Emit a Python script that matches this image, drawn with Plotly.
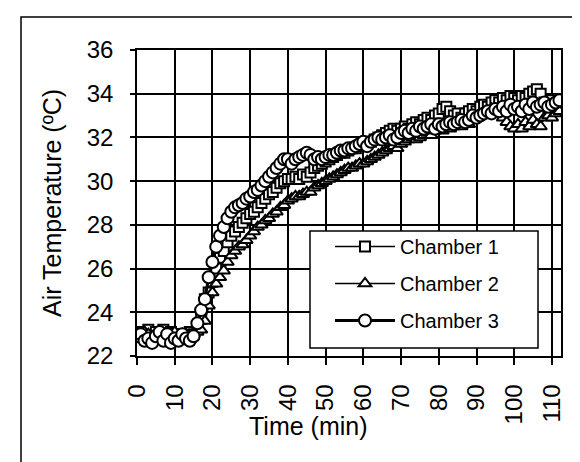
import plotly.graph_objects as go

# ---- data ----
time_min = list(range(0, 113))

chamber1 = [23.1, 22.9, 23.0, 23.2, 22.9, 23.1, 23.0, 23.2, 22.9, 23.1,
            23.0, 22.8, 23.0, 22.9, 23.1, 23.0, 23.3, 23.7, 24.6, 24.9,
            25.4, 26.0, 26.5, 26.8, 27.2, 27.5, 27.7, 27.9, 28.1, 28.3,
            28.5, 28.6, 28.8, 29.0, 29.2, 29.4, 29.5, 29.7, 29.9, 30.0,
            30.1, 30.1, 30.2, 30.1, 30.3, 30.2, 30.4, 30.6, 30.7, 30.8,
            30.9, 31.0, 31.1, 31.2, 31.3, 31.3, 31.4, 31.5, 31.5, 31.6,
            31.7, 31.7, 31.8, 31.9, 32.0, 32.1, 32.2, 32.3, 32.4, 32.3,
            32.4, 32.5, 32.4, 32.6, 32.7, 32.6, 32.8, 32.9, 32.8, 33.0,
            33.1, 33.3, 33.4, 33.2, 33.0, 33.1, 32.9, 33.1, 33.2, 33.3,
            33.2, 33.4, 33.5, 33.4, 33.6, 33.7, 33.6, 33.8, 33.7, 33.9,
            33.8, 33.7, 33.9, 33.8, 34.0, 34.1, 34.2, 34.0, 33.6, 33.4,
            33.7, 33.5, 33.6]

chamber2 = [23.0, 22.9, 23.1, 23.0, 22.9, 23.0, 23.1, 23.0, 22.9, 23.0,
            23.1, 22.9, 23.0, 23.0, 22.9, 23.0, 23.1, 23.2, 23.6, 24.3,
            24.9, 25.3, 25.6, 25.9, 26.3, 26.6, 26.8, 27.0, 27.1, 27.3,
            27.5, 27.7, 27.9, 28.0, 28.2, 28.3, 28.5, 28.6, 28.8, 28.9,
            29.1, 29.2, 29.3, 29.3, 29.4, 29.5, 29.5, 29.7, 29.8, 29.9,
            30.0, 30.1, 30.2, 30.3, 30.4, 30.5, 30.6, 30.6, 30.7, 30.8,
            30.8, 30.9, 31.0, 31.1, 31.2, 31.3, 31.4, 31.5, 31.6, 31.5,
            31.7, 31.8, 31.9, 32.0, 31.9, 32.0, 32.1, 32.2, 32.1, 32.3,
            32.4, 32.3, 32.5, 32.4, 32.5, 32.6, 32.5, 32.7, 32.6, 32.8,
            32.9, 33.0, 33.1, 33.2, 33.3, 33.2, 33.1, 32.9, 32.7, 32.5,
            32.4, 32.6, 32.4, 32.7, 32.5, 32.8, 32.6, 32.5, 32.9, 33.0,
            32.9, 33.1, 33.2]

chamber3 = [22.9, 23.0, 22.7, 22.8, 22.6, 22.9, 23.1, 22.7, 23.0, 22.6,
            22.8, 22.7, 23.0, 22.8, 22.7, 22.9, 23.5, 24.1, 24.6, 25.6,
            26.3, 27.0, 27.5, 27.9, 28.3, 28.6, 28.8, 28.9, 29.0, 29.2,
            29.3, 29.5, 29.6, 29.8, 30.0, 30.2, 30.4, 30.6, 30.8, 31.0,
            31.0, 30.8, 31.0, 31.1, 31.2, 31.3, 31.2, 31.0, 31.1, 31.0,
            31.1, 31.2, 31.2, 31.3, 31.4, 31.4, 31.5, 31.5, 31.6, 31.7,
            31.8, 31.6, 31.8, 31.9, 32.0, 31.9, 32.0, 32.1, 31.9, 32.0,
            32.2, 32.3, 32.2, 32.4, 32.3, 32.5, 32.4, 32.5, 32.6, 32.4,
            32.6, 32.5, 32.6, 32.7, 32.6, 32.7, 32.8, 32.7, 32.8, 33.0,
            32.9, 33.0, 33.1, 33.2, 33.1, 33.3, 33.2, 33.4, 33.2, 33.5,
            33.3, 33.4, 33.2, 33.5, 33.3, 33.6, 33.4, 33.5, 33.6, 33.4,
            33.5, 33.6, 33.7]

series_names = ["Chamber 1", "Chamber 2", "Chamber 3"]
x_ticks = list(range(0, 120, 10))
y_ticks = list(range(22, 38, 2))

FONT = "Liberation Sans, Arial, sans-serif"

fig = go.Figure()
styles = [
    dict(symbol="square", size=10, lw=1.5),
    dict(symbol="triangle-up", size=11, lw=1.5),
    dict(symbol="circle", size=12, lw=3),
]
for i, (name, ys) in enumerate(zip(series_names, [chamber1, chamber2, chamber3])):
    st = styles[i]
    fig.add_trace(go.Scatter(
        x=time_min, y=ys, name=name, mode="lines+markers",
        legendgroup=name,
        line=dict(color="black", width=st["lw"]),
        marker=dict(symbol=st["symbol"], size=st["size"], color="white",
                    line=dict(color="black", width=2)),
    ))

L, R, T, B = 129, 27, 42, 114
W, H = 580, 462
pw, ph = W - L - R, H - T - B

def px_x(p):
    return (p - L) / pw

def px_y(p):
    return (H - B - p) / ph

fig.update_layout(
    width=W, height=H,
    margin=dict(l=L, r=R, t=T, b=B, pad=0),
    paper_bgcolor="white", plot_bgcolor="white",
    font=dict(family=FONT, color="black", size=24),
    showlegend=True,
    legend=dict(
        x=px_x(322), y=px_y(219), xanchor="left", yanchor="top",
        bgcolor="rgba(0,0,0,0)", borderwidth=0,
        font=dict(size=20, family=FONT, color="black"),
        itemwidth=60, tracegroupgap=8,
    ),
    xaxis=dict(
        range=[0, 112.4], tickvals=x_ticks, ticktext=[str(v) for v in x_ticks],
        tickangle=-90, ticks="outside", ticklen=7, tickwidth=1.5, tickcolor="black",
        showgrid=True, gridcolor="black", gridwidth=1.5,
        showline=True, linecolor="black", linewidth=1.5, mirror=True,
        zeroline=False, ticklabelstandoff=10,
        tickfont=dict(size=24, family=FONT),
    ),
    yaxis=dict(
        range=[22, 36], tickvals=y_ticks,
        ticks="outside", ticklen=5, tickwidth=1.5, tickcolor="black",
        showgrid=True, gridcolor="black", gridwidth=1.5,
        showline=True, linecolor="black", linewidth=1.5, mirror=True,
        zeroline=False, ticklabelstandoff=12,
        tickfont=dict(size=24, family=FONT),
    ),
    shapes=[
        # outer chart frame
        dict(type="rect", xref="paper", yref="paper",
             x0=px_x(13), y0=px_y(480), x1=px_x(600), y1=px_y(9),
             line=dict(color="black", width=1.5), fillcolor="rgba(0,0,0,0)",
             layer="below"),
        # legend box
        dict(type="rect", xref="paper", yref="paper",
             x0=px_x(302), y0=px_y(340), x1=px_x(530), y1=px_y(223),
             line=dict(color="black", width=1.5), fillcolor="white",
             layer="above"),
    ],
    annotations=[
        dict(text="Air Temperature (ºC)", xref="paper", yref="paper",
             x=px_x(44), y=0.5, textangle=-90, showarrow=False,
             xanchor="center", yanchor="middle",
             font=dict(size=25, family=FONT)),
        dict(text="Time (min)", xref="paper", yref="paper",
             x=px_x(300), y=px_y(418), showarrow=False,
             xanchor="center", yanchor="middle",
             font=dict(size=25, family=FONT)),
    ],
)

fig.write_html("out.html")
